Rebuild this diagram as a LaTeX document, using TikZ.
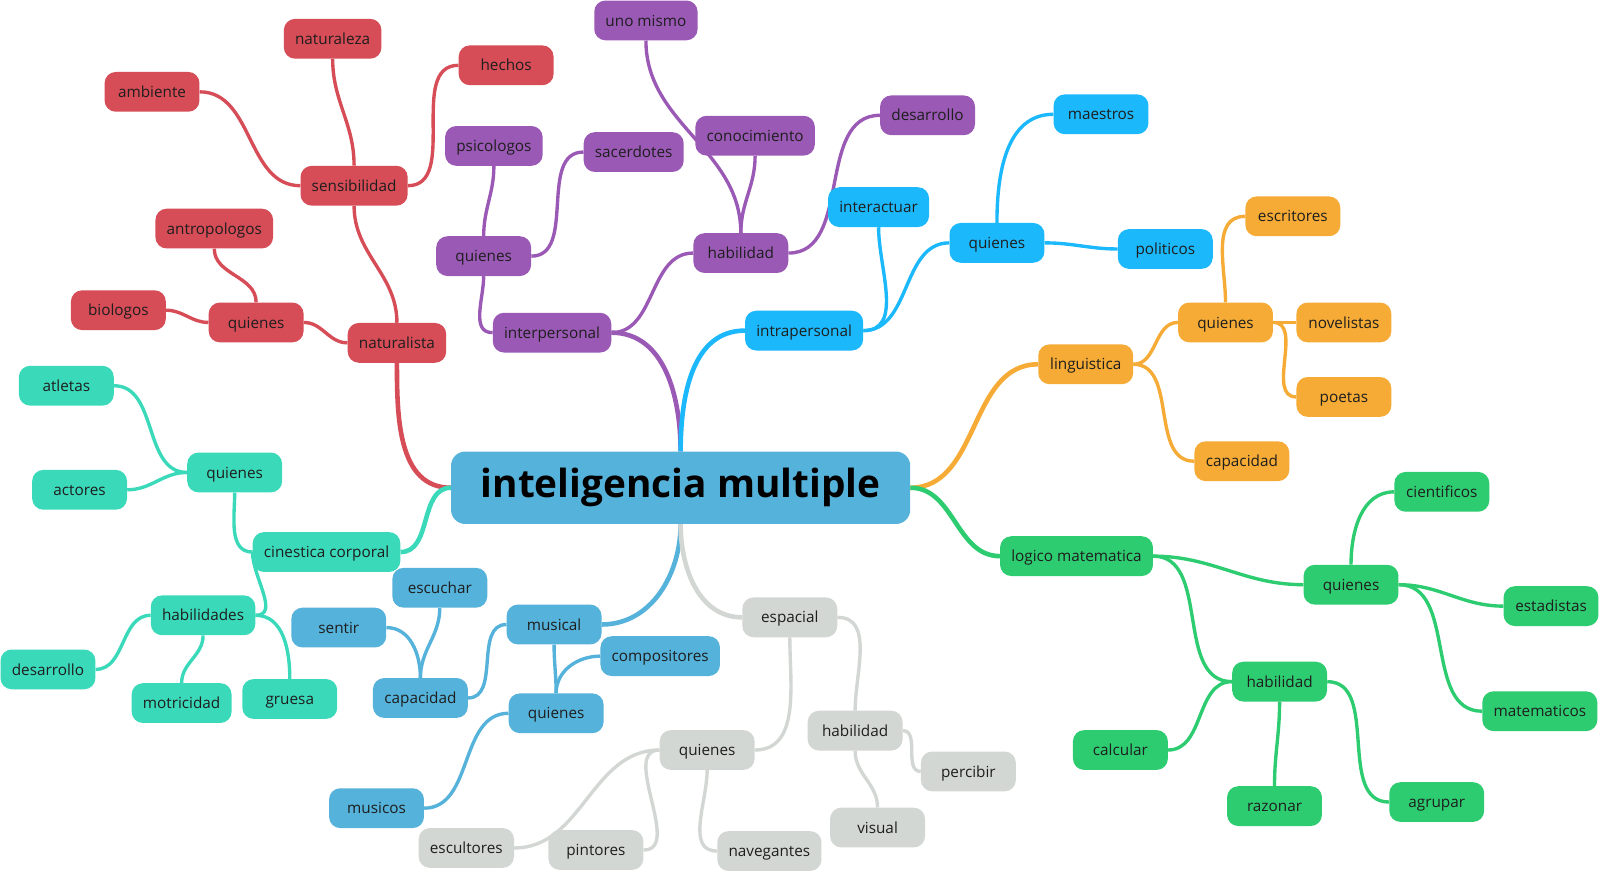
\documentclass[tikz,border=0pt]{standalone}
\usepackage{fontspec}
\setmainfont{Open Sans}
\pgfdeclarelayer{bg}
\pgfdeclarelayer{paper}
\pgfsetlayers{paper,bg,main}
\definecolor{cred}{HTML}{D64C57}
\definecolor{cpur}{HTML}{9B59B6}
\definecolor{csky}{HTML}{1CB8FC}
\definecolor{corg}{HTML}{F5AB35}
\definecolor{cgrn}{HTML}{2ECC71}
\definecolor{cteal}{HTML}{3AD9B9}
\definecolor{cblu}{HTML}{55B2DA}
\definecolor{cgry}{HTML}{D3D7D4}
\definecolor{txt}{HTML}{1E1E1E}
\tikzset{
  mm/.style={rounded corners=11pt, minimum width=93pt, minimum height=39pt, inner xsep=11pt, inner ysep=0pt, text height=14pt, text depth=3pt, text=txt, font=\fontsize{15}{18}\selectfont},
  nred/.style={mm, fill=cred},
  npur/.style={mm, fill=cpur},
  nsky/.style={mm, fill=csky},
  norg/.style={mm, fill=corg},
  ngrn/.style={mm, fill=cgrn},
  nteal/.style={mm, fill=cteal},
  nblu/.style={mm, fill=cblu},
  ngry/.style={mm, fill=cgry},
  ered/.style={draw=cred, line width=3.3pt},
  epur/.style={draw=cpur, line width=3.3pt},
  esky/.style={draw=csky, line width=3.3pt},
  eorg/.style={draw=corg, line width=3.3pt},
  egrn/.style={draw=cgrn, line width=3.3pt},
  eteal/.style={draw=cteal, line width=3.3pt},
  eblu/.style={draw=cblu, line width=3.3pt},
  egry/.style={draw=cgry, line width=3.3pt},
  rootw/.style={line width=4.5pt},
}
\begin{document}
\begin{tikzpicture}[x=1pt,y=-1pt]
\begin{pgfonlayer}{paper}
\fill[white] (0,0) rectangle (1568,854);
\end{pgfonlayer}
\useasboundingbox (0,0) rectangle (1568,854);
% root
\node[fill=cblu, rounded corners=14pt, minimum width=450pt, minimum height=71pt, text=black, font=\fontsize{38}{44}\selectfont\bfseries] (root) at (667,478) {inteligencia multiple};
% red
\node[nred] (r1) at (326,38) {naturaleza};
\node[nred] (r2) at (496,64) {hechos};
\node[nred] (r3) at (149,90) {ambiente};
\node[nred] (r4) at (347,182) {sensibilidad};
\node[nred] (r5) at (210,224) {antropologos};
\node[nred] (r6) at (116,304) {biologos};
\node[nred] (r7) at (251,316) {quienes};
\node[nred] (r8) at (389,336) {naturalista};
% purple
\node[npur] (p1) at (633,20) {uno mismo};
\node[npur] (p2) at (484,143) {psicologos};
\node[npur] (p3) at (621,149) {sacerdotes};
\node[npur] (p4) at (740,133) {conocimiento};
\node[npur] (p5) at (909,113) {desarrollo};
\node[npur] (p6) at (474,251) {quienes};
\node[npur] (p7) at (726,248) {habilidad};
\node[npur] (p8) at (541,326) {interpersonal};
% sky
\node[nsky] (s1) at (1079,112) {maestros};
\node[nsky] (s2) at (861,203) {interactuar};
\node[nsky] (s3) at (977,238) {quienes};
\node[nsky] (s4) at (1142,244) {politicos};
\node[nsky] (s5) at (788,324) {intrapersonal};
% orange
\node[norg] (o1) at (1267,212) {escritores};
\node[norg] (o2) at (1201,316) {quienes};
\node[norg] (o3) at (1317,316) {novelistas};
\node[norg] (o4) at (1317,389) {poetas};
\node[norg] (o5) at (1064,357) {linguistica};
\node[norg] (o6) at (1217,452) {capacidad};
% green
\node[ngrn] (g1) at (1413,482) {cientificos};
\node[ngrn] (g2) at (1055,545) {logico matematica};
\node[ngrn] (g3) at (1324,573) {quienes};
\node[ngrn] (g4) at (1520,594) {estadistas};
\node[ngrn] (g5) at (1254,668) {habilidad};
\node[ngrn] (g6) at (1509,697) {matematicos};
\node[ngrn] (g7) at (1098,735) {calcular};
\node[ngrn] (g8) at (1249,790) {razonar};
\node[ngrn] (g9) at (1408,786) {agrupar};
% teal
\node[nteal] (t1) at (65,378) {atletas};
\node[nteal] (t2) at (78,480) {actores};
\node[nteal] (t3) at (230,463) {quienes};
\node[nteal] (t4) at (320,541) {cinestica corporal};
\node[nteal] (t5) at (199,603) {habilidades};
\node[nteal] (t6) at (47,656) {desarrollo};
\node[nteal] (t7) at (178,689) {motricidad};
\node[nteal] (t8) at (284,685) {gruesa};
% blue
\node[nblu] (b1) at (431,576) {escuchar};
\node[nblu] (b2) at (332,615) {sentir};
\node[nblu] (b3) at (543,612) {musical};
\node[nblu] (b4) at (647,643) {compositores};
\node[nblu] (b5) at (412,684) {capacidad};
\node[nblu] (b6) at (545,699) {quienes};
\node[nblu] (b7) at (369,792) {musicos};
% gray
\node[ngry] (y1) at (774,605) {espacial};
\node[ngry] (y2) at (838,716) {habilidad};
\node[ngry] (y3) at (949,756) {percibir};
\node[ngry] (y4) at (693,735) {quienes};
\node[ngry] (y5) at (860,811) {visual};
\node[ngry] (y6) at (457,831) {escultores};
\node[ngry] (y7) at (584,833) {pintores};
\node[ngry] (y8) at (754,834) {navegantes};

\begin{pgfonlayer}{bg}
% red
\draw[ered,rootw] (root.west) to[out=180,in=-90] (r8.south);
\draw[ered] (r8.west) to[out=180,in=0] (r7.east);
\draw[ered] (r7.west) to[out=180,in=0] (r6.east);
\draw[ered] (r7.north) to[out=90,in=-90] (r5.south);
\draw[ered] (r8.north) to[out=90,in=-90] (r4.south);
\draw[ered] (r4.west) to[out=180,in=0] (r3.east);
\draw[ered] (r4.north) to[out=90,in=-90] (r1.south);
\draw[ered] (r4.east) to[out=0,in=180] (r2.west);
% purple
\draw[epur,rootw] (root.north) to[out=90,in=0] (p8.east);
\draw[epur] (p8.west) to[out=180,in=-90] (p6.south);
\draw[epur] (p6.north) to[out=90,in=-90] (p2.south);
\draw[epur] (p6.east) to[out=0,in=180] (p3.west);
\draw[epur] (p8.east) to[out=0,in=180] (p7.west);
\draw[epur] (p7.north) to[out=90,in=-90] (p4.south);
\draw[epur] (p7.north) to[out=90,in=-90] (p1.south);
\draw[epur] (p7.east) to[out=0,in=180] (p5.west);
% sky
\draw[esky,rootw] (root.north) to[out=90,in=180] (s5.west);
\draw[esky] (s5.east) to[out=0,in=-90] (s2.south);
\draw[esky] (s5.east) to[out=0,in=180] (s3.west);
\draw[esky] (s3.north) to[out=90,in=180] (s1.west);
\draw[esky] (s3.east) to[out=0,in=180] (s4.west);
% orange
\draw[eorg,rootw] (root.east) to[out=0,in=180] (o5.west);
\draw[eorg] (o5.east) to[out=0,in=180] (o2.west);
\draw[eorg] (o5.east) to[out=0,in=180] (o6.west);
\draw[eorg] (o2.north) to[out=90,in=180] (o1.west);
\draw[eorg] (o2.east) to[out=0,in=180] (o3.west);
\draw[eorg] (o2.east) to[out=0,in=180] (o4.west);
% green
\draw[egrn,rootw] (root.east) to[out=0,in=180] (g2.west);
\draw[egrn] (g2.east) to[out=0,in=180] (g3.west);
\draw[egrn] (g2.east) to[out=0,in=180] (g5.west);
\draw[egrn] (g3.north) to[out=90,in=180] (g1.west);
\draw[egrn] (g3.east) to[out=0,in=180] (g4.west);
\draw[egrn] (g3.east) to[out=0,in=180] (g6.west);
\draw[egrn] (g5.west) to[out=180,in=0] (g7.east);
\draw[egrn] (g5.south) to[out=-90,in=90] (g8.north);
\draw[egrn] (g5.east) to[out=0,in=180] (g9.west);
% teal
\draw[eteal,rootw] (root.west) to[out=180,in=0] (t4.east);
\draw[eteal] (t4.west) to[out=180,in=-90] (t3.south);
\draw[eteal] (t3.west) to[out=180,in=0] (t1.east);
\draw[eteal] (t3.west) to[out=180,in=0] (t2.east);
\draw[eteal] (t4.west) to[out=-90,in=0] (t5.east);
\draw[eteal] (t5.west) to[out=180,in=0] (t6.east);
\draw[eteal] (t5.south) to[out=-90,in=90] (t7.north);
\draw[eteal] (t5.east) to[out=0,in=90] (t8.north);
% blue
\draw[eblu,rootw] (root.south) to[out=-90,in=0] (b3.east);
\draw[eblu] (b3.west) to[out=180,in=0] (b5.east);
\draw[eblu] (b5.north) to[out=90,in=-90] (b1.south);
\draw[eblu] (b5.north) to[out=90,in=0] (b2.east);
\draw[eblu] (b3.south) to[out=-90,in=90] (b6.north);
\draw[eblu] (b6.north) to[out=90,in=180] (b4.west);
\draw[eblu] (b6.west) to[out=180,in=0] (b7.east);
% gray
\draw[egry,rootw] (root.south) to[out=-90,in=180] (y1.west);
\draw[egry] (y1.south) to[out=-90,in=0] (y4.east);
\draw[egry] (y1.east) to[out=0,in=90] (y2.north);
\draw[egry] (y2.east) to[out=0,in=180] (y3.west);
\draw[egry] (y2.south) to[out=-90,in=90] (y5.north);
\draw[egry] (y4.west) to[out=180,in=0] (y6.east);
\draw[egry] (y4.west) to[out=180,in=0] (y7.east);
\draw[egry] (y4.south) to[out=-90,in=180] (y8.west);
\end{pgfonlayer}
\end{tikzpicture}
\end{document}
